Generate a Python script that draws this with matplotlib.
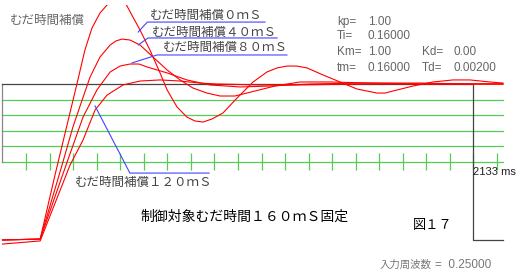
#!/usr/bin/env python

import matplotlib
matplotlib.use("Agg")
import matplotlib.pyplot as plt

# 応答波形 (時間 ms, 出力 目標値=1.0)
t_0ms = [0, 160, 223, 274, 316, 350, 380, 414, 448, 482, 524, 554, 584, 626, 669,
         699, 741, 783, 817, 851, 890, 936, 996, 1064, 1123, 1166, 1208, 1250,
         1293, 1361, 1433, 1505, 1590, 1624, 1658, 1743, 1828, 1913, 1985, 2070, 2125]
v_0ms = [0, 0.006, 0.417, 0.737, 1.0, 1.218, 1.359, 1.455, 1.513, 1.558, 1.513,
         1.429, 1.346, 1.218, 1.071, 0.962, 0.853, 0.788, 0.763, 0.756, 0.776,
         0.814, 0.910, 1.013, 1.077, 1.103, 1.115, 1.115, 1.103, 1.058, 1.013,
         0.968, 0.942, 0.942, 0.955, 0.987, 1.013, 1.026, 1.026, 1.013, 1.006]

t_40ms = [0, 160, 253, 299, 338, 372, 414, 457, 482, 507, 541, 584, 639, 699, 754,
          809, 868, 924, 987, 1072, 1157, 1263, 1391, 1561, 1773, 1985, 2125]
v_40ms = [0, 0.006, 0.481, 0.724, 0.897, 1.045, 1.173, 1.250, 1.276, 1.288, 1.282,
          1.250, 1.173, 1.090, 1.026, 0.974, 0.942, 0.923, 0.923, 0.955, 0.987,
          1.013, 1.013, 1.006, 1.0, 1.0, 1.0]

t_80ms = [0, 160, 270, 342, 401, 457, 499, 541, 580, 614, 699, 783, 881, 1009, 1136,
          1306, 1518, 1773, 1985, 2125]
v_80ms = [0, 0.006, 0.481, 0.788, 0.962, 1.077, 1.115, 1.128, 1.128, 1.109, 1.071,
          1.026, 0.994, 0.981, 0.987, 1.0, 1.006, 1.006, 1.0, 1.0]

t_120ms = [0, 160, 287, 342, 393, 444, 512, 584, 669, 754, 839, 911, 1093, 1263,
           1518, 1773, 1985, 2125]
v_120ms = [-0.026, -0.006, 0.481, 0.641, 0.833, 0.929, 0.994, 1.019, 1.026, 1.019,
           1.006, 1.0, 0.994, 0.994, 1.0, 1.0, 1.0, 1.0]

# 入力 (矩形波)
t_in = [0, 2000, 2000, 2125]
v_in = [1.0, 1.0, 0.0, 0.0]

grid_levels = [0.9, 0.8, 0.7, 0.6, 0.5]
tick_times = list(range(100, 2200, 100))

params = [("kp=", "1.00", "", ""),
          ("Ti=", "0.16000", "", ""),
          ("Km=", "1.00", "Kd=", "0.00"),
          ("tm=", "0.16000", "Td=", "0.00200")]

JP = ['Noto Sans CJK JP', 'DejaVu Sans']


def main():
    fig = plt.figure(figsize=(5.25, 2.75), dpi=100)
    ax = fig.add_axes([0, 0, 1, 270 / 275])
    ax.set_xlim(-10.6, 2218.7)
    ax.set_ylim(-0.2244, 1.5064)
    ax.axis('off')

    # 緑の目盛線
    for lv in grid_levels:
        ax.plot([0, 2125], [lv, lv], color='#55cc55', lw=0.9, zorder=1)
    ax.vlines(tick_times, 0.449, 0.558, color='#55cc55', lw=0.9, zorder=1)
    ax.plot([0, 0], [0.5, 1.0], color='#888888', lw=0.9, zorder=1)

    # 入力
    ax.plot(t_in, v_in, color='#444444', lw=0.9, zorder=2)

    # 応答
    for t, v in [(t_0ms, v_0ms), (t_40ms, v_40ms), (t_80ms, v_80ms), (t_120ms, v_120ms)]:
        ax.plot(t, v, color='#ff0000', lw=0.8, zorder=3)

    # ラベルと引出線
    blue = '#4444ff'
    ax.plot([576, 615, 1115], [1.333, 1.397, 1.397], color=blue, lw=0.8, zorder=4)
    ax.plot([576, 618, 1166], [1.25, 1.295, 1.295], color=blue, lw=0.8, zorder=4)
    ax.plot([550, 656, 1208], [1.135, 1.186, 1.186], color=blue, lw=0.8, zorder=4)
    ax.plot([393, 541, 877], [0.859, 0.429, 0.429], color=blue, lw=0.8, zorder=4)

    lab = dict(family=JP, fontsize=9, color='#444444', ha='left', va='center')
    ax.text(626, 1.442, 'むだ時間補償０ｍＳ', **lab)
    ax.text(635, 1.333, 'むだ時間補償４０ｍＳ', **lab)
    ax.text(681, 1.237, 'むだ時間補償８０ｍＳ', **lab)
    ax.text(308, 0.372, 'むだ時間補償１２０ｍＳ', **lab)
    ax.text(32, 1.41, 'むだ時間補償', family=JP, fontsize=9, color='#666666',
            ha='left', va='center')

    # パラメータ
    rows = [1.397, 1.308, 1.205, 1.103]
    pf = dict(family='Liberation Sans', fontsize=8.5, color='#666666', va='center')
    for (k1, v1, k2, v2), y in zip(params, rows):
        ax.text(1421, y, k1, ha='left', **pf)
        ax.text(1552, y, v1, ha='left', **pf)
        if k2:
            ax.text(1781, y, k2, ha='left', **pf)
            ax.text(1913, y, v2, ha='left', **pf)

    ax.text(1998, 0.436, '2133 ms', family='Liberation Sans', fontsize=8,
            color='#222222', ha='left', va='center')
    ax.text(584, 0.147, '制御対象むだ時間１６０ｍＳ固定', family=JP, fontsize=10,
            color='black', ha='left', va='center')
    ax.text(1743, 0.090, '図１７', family=JP, fontsize=9.5, color='black',
            ha='left', va='center')
    ax.text(1603, -0.160, '入力周波数', family=JP, fontsize=7.5, color='#777777',
            ha='left', va='center')
    ax.text(1836, -0.160, '=  0.25000', family='Liberation Sans', fontsize=8.5,
            color='#777777', ha='left', va='center')

    plt.savefig('out.png', dpi=100)


if __name__ == "__main__":
    main()
